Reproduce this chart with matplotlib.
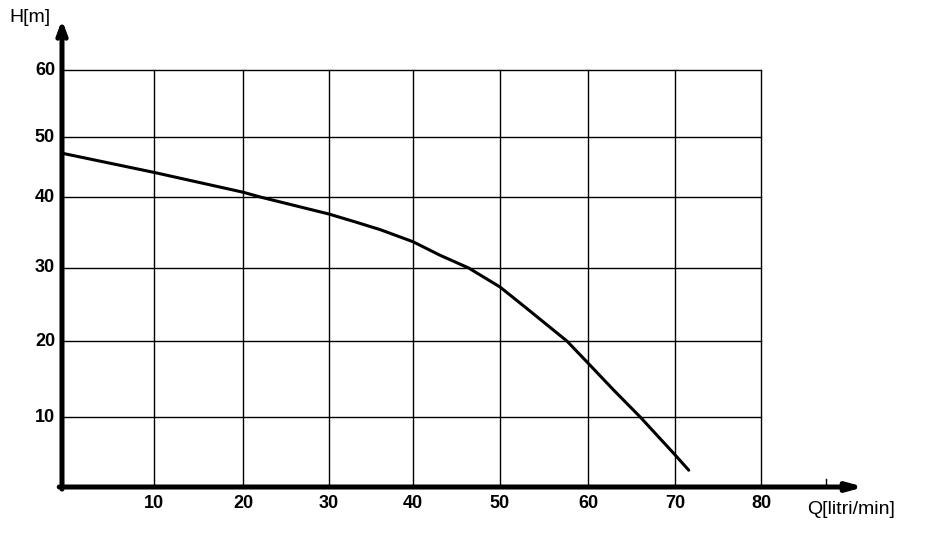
import numpy as np
import matplotlib.pyplot as plt

# hand-drawn grid: tick values and where they sit (pixels from the origin)
q_ticks = [0, 10, 20, 30, 40, 50, 60, 70, 80]
q_pos = [0, 92, 181, 267, 351, 438, 526, 613, 699]
h_ticks = [0, 10, 20, 30, 40, 50, 60]
h_pos = [0, 70, 146, 219, 290, 350, 417]

# pump curve
q = [0, 10, 20, 22, 30, 33.1, 36.1, 40, 43.1, 46.4, 50, 53.0, 57.6, 60, 62.9, 66.0, 70, 71.6]
h = [47.3, 44.1, 40.8, 40, 37.6, 36.5, 35.4, 33.7, 31.8, 30, 27.4, 24.5, 20, 17.1, 13.6, 10, 4.6, 2.4]

plt.rcParams['font.family'] = ['Liberation Sans', 'DejaVu Sans']

fig = plt.figure(figsize=(9.42, 5.34), dpi=100)
ax = fig.add_axes([62 / 942, 47 / 534, 699 / 942, 417 / 534])

ax.set_xscale('function', functions=(lambda v: np.interp(v, q_ticks, q_pos),
                                     lambda t: np.interp(t, q_pos, q_ticks)))
ax.set_yscale('function', functions=(lambda v: np.interp(v, h_ticks, h_pos),
                                     lambda t: np.interp(t, h_pos, h_ticks)))
ax.set_xlim(0, 80)
ax.set_ylim(0, 60)

ax.plot(q, h, color='black', lw=2.2, solid_capstyle='round', solid_joinstyle='round')

for v in q_ticks[1:]:
    ax.axvline(v, color='black', lw=1.0, clip_on=False)
for v in h_ticks[1:]:
    ax.axhline(v, color='black', lw=1.0, clip_on=False)

for s in ax.spines.values():
    s.set_visible(False)
ax.set_xticks([])
ax.set_yticks([])

for v in q_ticks[1:]:
    ax.annotate(str(v), (v, 0), xytext=(0, -6), textcoords='offset points',
                ha='center', va='top', fontsize=13, fontweight='bold')
for v in h_ticks[1:]:
    ax.annotate(str(v), (0, v), xytext=(-5, 0), textcoords='offset points',
                ha='right', va='center', fontsize=13, fontweight='bold')

# thick axis arrows
ax.annotate('', xy=(802 / 699, 0), xytext=(-0.004, 0), xycoords='axes fraction',
            arrowprops=dict(arrowstyle='-|>,head_length=0.9,head_width=0.25',
                            color='black', lw=3.6, shrinkA=0, shrinkB=0))
ax.annotate('', xy=(0, 467 / 417), xytext=(0, -0.005), xycoords='axes fraction',
            arrowprops=dict(arrowstyle='->,head_length=0.8,head_width=0.3',
                            color='black', lw=3.6, shrinkA=0, shrinkB=0))
ax.plot([764 / 699, 764 / 699], [0, 8 / 417], color='black', lw=1.0,
        transform=ax.transAxes, clip_on=False)

fig.text(9 / 942, 1 - 18 / 534, 'H[m]', ha='left', va='center', fontsize=14)
fig.text(807 / 942, 1 - 510 / 534, 'Q[litri/min]', ha='left', va='center', fontsize=14)

fig.savefig('out.png', dpi=100)
